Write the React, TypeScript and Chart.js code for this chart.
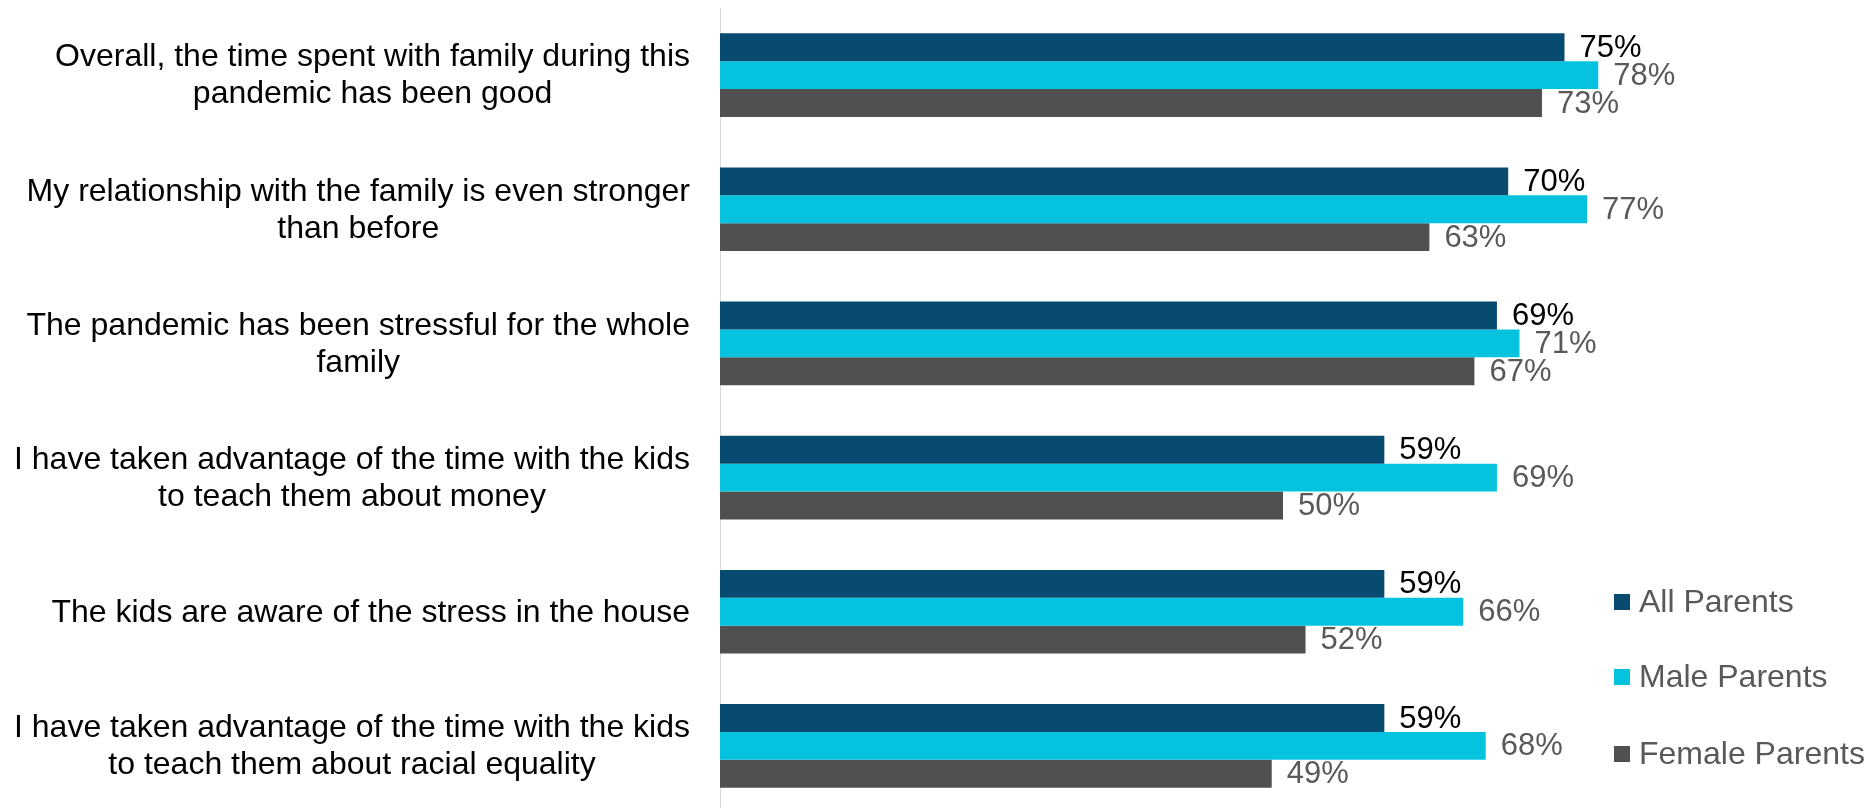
import React, { useEffect, useRef } from "react";
import { Chart, registerables } from "chart.js";

Chart.register(...registerables);

const categories: string[][] = [
  ["Overall, the time spent with family during this", "pandemic has been good"],
  ["My relationship with the family is even stronger", "than before"],
  ["The pandemic has been stressful for the whole", "family"],
  ["I have taken advantage of the time with the kids", "to teach them about money"],
  ["The kids are aware of the stress in the house"],
  ["I have taken advantage of the time with the kids", "to teach them about racial equality"],
];

const seriesNames = ["All Parents", "Male Parents", "Female Parents"];
const allParents = [75, 70, 69, 59, 59, 59];
const maleParents = [78, 77, 71, 69, 66, 68];
const femaleParents = [73, 63, 67, 50, 52, 49];

const barColors = ["#074C70", "#05C3DE", "#505050"];
const valueLabelColors = ["#000000", "#595959", "#595959"];

const FONT = '"Liberation Sans", Arial, sans-serif';
const FONT_SIZE = 32;
const VALUE_FONT_SIZE = 31;

const valueLabelsPlugin = {
  id: "valueLabels",
  afterDatasetsDraw(chart: any) {
    const ctx = chart.ctx;
    ctx.save();
    ctx.font = `${VALUE_FONT_SIZE}px ${FONT}`;
    ctx.textAlign = "left";
    ctx.textBaseline = "middle";
    chart.data.datasets.forEach((ds: any, di: number) => {
      const meta = chart.getDatasetMeta(di);
      meta.data.forEach((el: any, i: number) => {
        ctx.fillStyle = valueLabelColors[di];
        ctx.fillText(`${ds.data[i]}%`, el.x + 15, el.y + 1);
      });
    });
    ctx.restore();
  },
};

const categoryLabelsPlugin = {
  id: "categoryLabels",
  afterDraw(chart: any) {
    const ctx = chart.ctx;
    const yScale = chart.scales.y;
    const right = chart.chartArea.left - 30;
    const lineH = 37;
    ctx.save();
    ctx.font = `${FONT_SIZE}px ${FONT}`;
    ctx.fillStyle = "#000000";
    ctx.textAlign = "center";
    ctx.textBaseline = "middle";
    categories.forEach((lines, i) => {
      const cy = yScale.getPixelForValue(i);
      const widest = Math.max(...lines.map((l) => ctx.measureText(l).width));
      const cx = right - widest / 2;
      const startY = cy - ((lines.length - 1) * lineH) / 2;
      lines.forEach((l, li) => {
        ctx.fillText(l, cx, startY + li * lineH + 1);
      });
    });
    ctx.restore();
  },
};

const legendPlugin = {
  id: "customLegend",
  afterDraw(chart: any) {
    const ctx = chart.ctx;
    const x0 = 1614;
    const ys = [602, 677, 754];
    ctx.save();
    ctx.font = `${FONT_SIZE}px ${FONT}`;
    ctx.textAlign = "left";
    ctx.textBaseline = "middle";
    seriesNames.forEach((name, i) => {
      ctx.fillStyle = barColors[i];
      ctx.fillRect(x0, ys[i] - 8, 16, 16);
      ctx.fillStyle = "#595959";
      ctx.fillText(name, x0 + 25, ys[i] + 1);
    });
    ctx.restore();
  },
};

export default function App() {
  const canvasRef = useRef<HTMLCanvasElement | null>(null);

  useEffect(() => {
    if (!canvasRef.current) return;
    const chart = new Chart(canvasRef.current, {
      type: "bar",
      data: {
        labels: categories.map((c) => c.join(" ")),
        datasets: [
          { label: seriesNames[0], data: allParents, backgroundColor: barColors[0] },
          { label: seriesNames[1], data: maleParents, backgroundColor: barColors[1] },
          { label: seriesNames[2], data: femaleParents, backgroundColor: barColors[2] },
        ],
      },
      options: {
        indexAxis: "y",
        responsive: false,
        animation: false,
        devicePixelRatio: 1,
        layout: { padding: { left: 720, right: 30, top: 8, bottom: 0 } },
        datasets: {
          bar: { categoryPercentage: 0.624, barPercentage: 1.0 },
        },
        scales: {
          x: { min: 0, max: 100, display: false },
          y: {
            display: true,
            ticks: { display: false },
            grid: { display: false },
            border: { display: true, color: "#D9D9D9", width: 1 },
            afterFit: (scale: any) => {
              scale.width = 0;
            },
          },
        },
        plugins: {
          legend: { display: false },
          tooltip: { enabled: false },
        },
      },
      plugins: [valueLabelsPlugin, categoryLabelsPlugin, legendPlugin],
    } as any);
    return () => chart.destroy();
  }, []);

  return (
    <div
      style={{
        position: "fixed",
        left: 0,
        top: 0,
        width: 1876,
        height: 808,
        overflow: "hidden",
        background: "#ffffff",
      }}
    >
      <canvas ref={canvasRef} width={1876} height={813} style={{ display: "block" }} />
    </div>
  );
}
